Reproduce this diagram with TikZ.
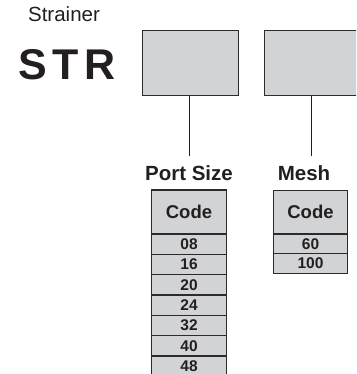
\documentclass[tikz,border=0pt]{standalone}
\usepackage{fontspec}
\setmainfont{Liberation Sans}
\definecolor{boxfill}{HTML}{D2D3D5}
\definecolor{boxline}{HTML}{2B2B2B}
\definecolor{ink}{HTML}{231F20}
\begin{document}
\begin{tikzpicture}[x=1pt,y=-1pt,
  codebox/.style={draw=boxline,fill=boxfill,line width=1.2pt},
  cell/.style={codebox,rectangle,minimum width=74.5pt,inner sep=0pt,text=ink,font=\fontsize{15.5}{16}\selectfont\bfseries},
  headcell/.style={cell,font=\fontsize{18.5}{19}\selectfont\bfseries},
  lbl/.style={text=ink,font=\fontsize{20.5}{21}\selectfont\bfseries,anchor=base,inner sep=0pt},
  conn/.style={draw=ink,line width=1pt}]
\useasboundingbox (0,0) rectangle (356,374);
\clip (0,0) rectangle (356,374);
% title
\node[text=ink,font=\fontsize{20.5}{21}\selectfont,anchor=base,inner sep=0pt] (strainer) at (64,21.7) {Strainer};
\node[text=ink,font=\fontsize{43}{44}\selectfont\bfseries,anchor=base,inner sep=0pt] (str) at (67,80) {S\kern6pt T\kern6pt R};
% code boxes
\node[codebox,rectangle,minimum width=96.6pt,minimum height=65pt,inner sep=0pt,anchor=north west] (b1) at (141.5,30) {};
\node[codebox,rectangle,minimum width=96.6pt,minimum height=65pt,inner sep=0pt,anchor=north west] (b2) at (263.5,30) {};
% labels
\node[lbl] (ps) at (189,180) {Port Size};
\node[lbl] (mesh) at (304,180) {Mesh};
\coordinate (c1) at (189,155.7);
\coordinate (c2) at (311.5,155.7);
\draw[conn] (b1.south -| c1) -- (c1);
\draw[conn] (b2.south -| c2) -- (c2);
% table 1
\node[headcell,minimum height=44pt,anchor=north] (h1) at (189,189.3) {Code};
\foreach \v [count=\i] in {08,16,20,24,32,40,48}{
  \node[cell,minimum height=20.35pt,anchor=north] (r1\i) at (189,{233.3+(\i-1)*20.35}) {\v};
}
% table 2
\node[headcell,minimum height=43.3pt,anchor=north] (h2) at (310.5,190) {Code};
\foreach \v [count=\i] in {60,100}{
  \node[cell,minimum height=19.8pt,anchor=north] (r2\i) at (310.5,{233.3+(\i-1)*19.8}) {\v};
}
\end{tikzpicture}
\end{document}
